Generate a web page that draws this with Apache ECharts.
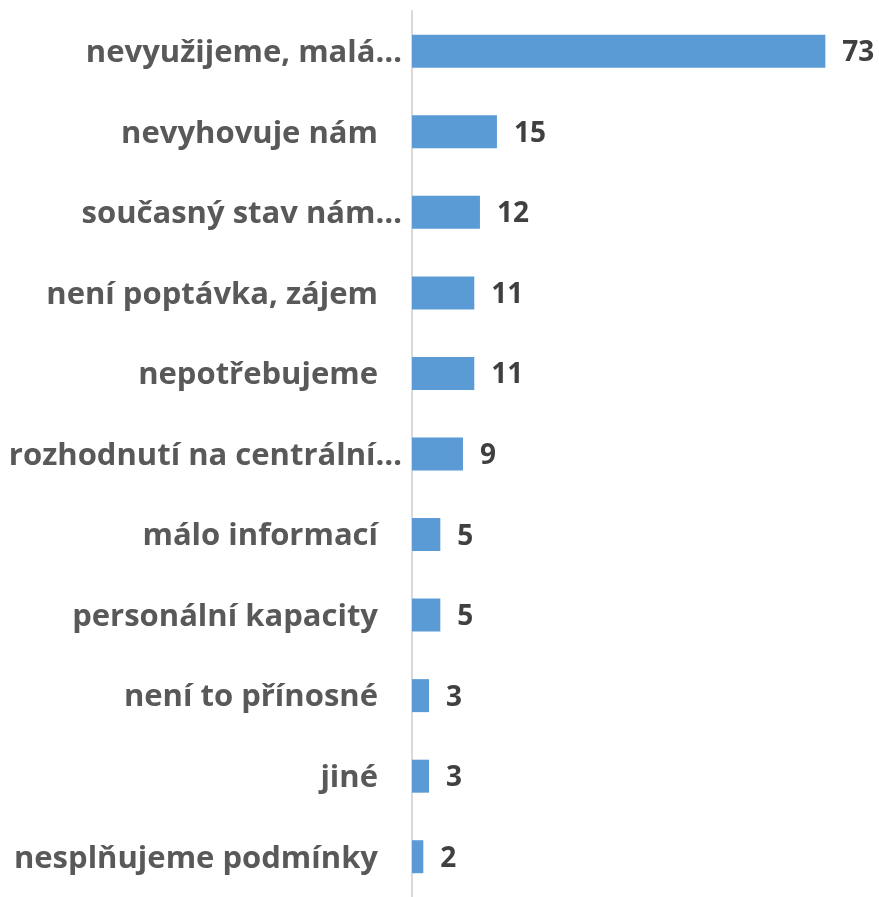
<!DOCTYPE html>
<html>
<head>
<meta charset="utf-8">
<script src="https://cdn.jsdelivr.net/npm/echarts@6/dist/echarts.min.js"></script>
<style>html,body{margin:0;padding:0;background:#fff}#c{width:879px;height:897px}</style>
</head>
<body>
<div id="c"></div>
<script>
const categories = [
  "nevyužijeme, malá…",
  "nevyhovuje nám",
  "současný stav nám…",
  "není poptávka, zájem",
  "nepotřebujeme",
  "rozhodnutí na centrální…",
  "málo informací",
  "personální kapacity",
  "není to přínosné",
  "jiné",
  "nesplňujeme podmínky"
];
const values = [73, 15, 12, 11, 11, 9, 5, 5, 3, 3, 2];

const chart = echarts.init(document.getElementById('c'), null, {renderer: 'canvas'});
chart.setOption({
  animation: false,
  grid: {left: 412, top: 11, width: 453, height: 891, containLabel: false},
  xAxis: {
    type: 'value', min: 0, max: 80,
    show: false
  },
  yAxis: {
    type: 'category',
    inverse: true,
    data: categories,
    axisLine: {show: true, lineStyle: {color: '#d9d9d9', width: 2}},
    axisTick: {show: false},
    splitLine: {show: false},
    axisLabel: {
      margin: 10,
      formatter: function (v) {
        return v.endsWith('…') ? '{t|' + v + '}' : '{n|' + v + '}';
      },
      rich: {
        t: {fontFamily: 'Open Sans', fontWeight: 'bold', fontSize: 31, color: '#595959', padding: [4, 0, 0, 0]},
        n: {fontFamily: 'Open Sans', fontWeight: 'bold', fontSize: 31, color: '#595959', padding: [4, 24, 0, 0]}
      }
    }
  },
  series: [{
    type: 'bar',
    data: values,
    barWidth: 33,
    itemStyle: {color: '#5B9BD5'},
    label: {
      show: true, position: 'right', distance: 17, offset: [0, 2],
      fontFamily: 'Open Sans', fontWeight: 'bold', fontSize: 28, color: '#404040'
    }
  }]
});
</script>
</body>
</html>
